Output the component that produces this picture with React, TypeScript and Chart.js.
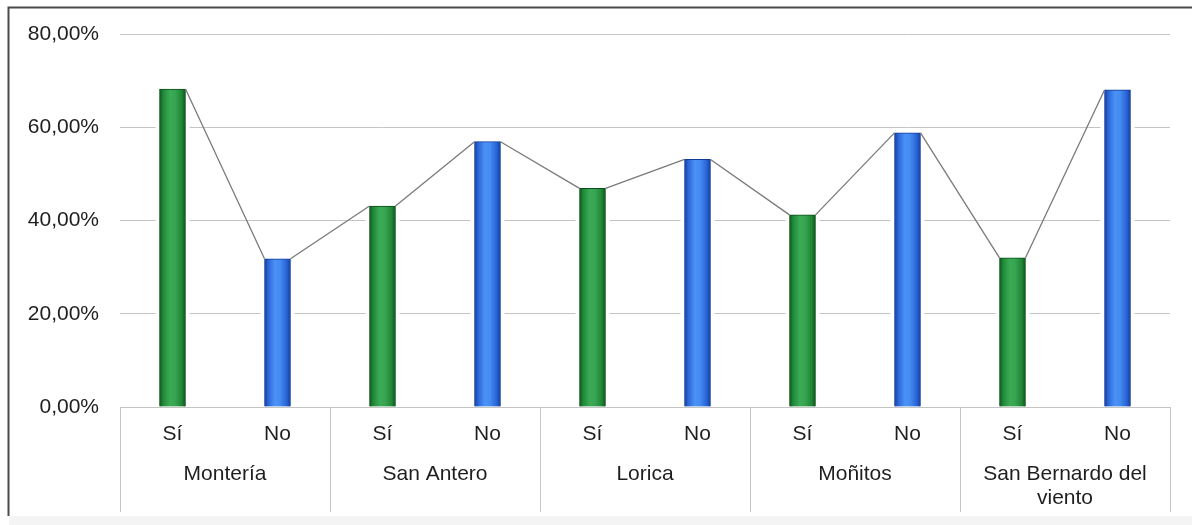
import React, { useEffect, useRef } from "react";
import { Chart, registerables } from "chart.js";

Chart.register(...registerables);

const categories = ["Montería", "San Antero", "Lorica", "Moñitos", "San Bernardo del viento"];
const categoryLines = [["Montería"], ["San Antero"], ["Lorica"], ["Moñitos"], ["San Bernardo del", "viento"]];
const answers = ["Sí", "No"];
const siValues = [68.2, 43.1, 46.9, 41.2, 32.0];
const noValues = [31.8, 56.9, 53.1, 58.8, 68.0];
const yTicks = [0, 20, 40, 60, 80];

const FONT = '"Liberation Sans", Arial, Helvetica, sans-serif';
const FONT_SIZE = 21;

const labels: string[] = [];
const values: number[] = [];
categories.forEach((_, i) => {
  labels.push(answers[0], answers[1]);
  values.push(siValues[i], noValues[i]);
});

const greenStops: [number, string][] = [
  [0, "#0b5419"],
  [0.14, "#1f8a38"],
  [0.4, "#3bab56"],
  [0.6, "#37a451"],
  [0.86, "#1f8636"],
  [1, "#0b5419"],
];
const blueStops: [number, string][] = [
  [0, "#113d9c"],
  [0.14, "#2a66d8"],
  [0.4, "#4b91f6"],
  [0.6, "#448bf2"],
  [0.86, "#2763d4"],
  [1, "#113d9c"],
];

const frameAndGroups = {
  id: "frameAndGroups",
  beforeDraw(chart: any) {
    const ctx = chart.ctx;
    ctx.save();
    ctx.fillStyle = "#ffffff";
    ctx.fillRect(0, 0, chart.width, chart.height);
    ctx.fillStyle = "#f4f4f4";
    ctx.fillRect(9, 516, chart.width, chart.height - 516);
    ctx.restore();
  },
  beforeDatasetsDraw(chart: any) {
    const ctx = chart.ctx;
    const meta = chart.getDatasetMeta(0);
    ctx.save();
    ctx.fillStyle = "#ffffff";
    meta.data.forEach((bar: any) => {
      const w = bar.width;
      ctx.fillRect(bar.x - w / 2 - 4, bar.y - 3, w + 8, bar.base - bar.y + 2);
    });
    ctx.restore();
  },
  afterDatasetsDraw(chart: any) {
    const ctx = chart.ctx;
    const meta = chart.getDatasetMeta(0);
    const bars = meta.data;
    ctx.save();
    ctx.strokeStyle = "#7a7a7a";
    ctx.lineWidth = 1.3;
    ctx.beginPath();
    for (let i = 0; i < bars.length - 1; i++) {
      const a = bars[i];
      const b = bars[i + 1];
      ctx.moveTo(a.x + a.width / 2, a.y);
      ctx.lineTo(b.x - b.width / 2, b.y);
    }
    ctx.stroke();
    ctx.restore();
  },
  afterDraw(chart: any) {
    const ctx = chart.ctx;
    const xs = chart.scales.x;
    const area = chart.chartArea;
    ctx.save();
    // separators
    ctx.strokeStyle = "#c6c6c6";
    ctx.lineWidth = 1;
    for (let g = 0; g <= categories.length; g++) {
      let px: number;
      if (g === 0) px = xs.left;
      else if (g === categories.length) px = xs.right;
      else px = (xs.getPixelForValue(2 * g - 1) + xs.getPixelForValue(2 * g)) / 2;
      px = Math.round(px) + 0.5;
      ctx.beginPath();
      ctx.moveTo(px, area.bottom);
      ctx.lineTo(px, area.bottom + 105);
      ctx.stroke();
    }
    // group labels
    ctx.fillStyle = "#1e1e1e";
    ctx.font = `${FONT_SIZE}px ${FONT}`;
    ctx.textAlign = "center";
    ctx.textBaseline = "middle";
    categoryLines.forEach((lines, g) => {
      const cx = (xs.getPixelForValue(2 * g) + xs.getPixelForValue(2 * g + 1)) / 2;
      lines.forEach((t, k) => {
        ctx.fillText(t, cx, area.bottom + 67 + k * 24);
      });
    });
    // frame
    ctx.strokeStyle = "#4a4a4a";
    ctx.lineWidth = 2;
    ctx.beginPath();
    ctx.moveTo(8.5, chart.height - 9);
    ctx.lineTo(8.5, 7.5);
    ctx.lineTo(chart.width, 7.5);
    ctx.stroke();
    ctx.restore();
  },
};

function makeGradient(c: any) {
  const isSi = c.dataIndex % 2 === 0;
  const fallback = isSi ? "#2f9a48" : "#3d80ee";
  if (c.type !== "data") return fallback;
  const chart = c.chart;
  const xs = chart.scales && chart.scales.x;
  if (!xs || !chart.chartArea) return fallback;
  const cx = xs.getPixelForValue(c.dataIndex);
  const g = chart.ctx.createLinearGradient(cx - 13, 0, cx + 13, 0);
  (isSi ? greenStops : blueStops).forEach(([o, col]) => g.addColorStop(o, col));
  return g;
}

export default function App() {
  const ref = useRef<HTMLCanvasElement>(null);
  useEffect(() => {
    if (!ref.current) return;
    const chart = new Chart(ref.current, {
      type: "bar",
      data: {
        labels,
        datasets: [
          {
            data: values,
            backgroundColor: makeGradient as any,
            borderColor: values.map((_, i) => (i % 2 === 0 ? "#0b4d17" : "#123a94")),
            borderWidth: 1,
            barThickness: 26,
          },
        ],
      },
      options: {
        responsive: false,
        maintainAspectRatio: false,
        devicePixelRatio: 1,
        animation: false,
        layout: { padding: { left: 0, right: 22, top: 34, bottom: 0 } },
        plugins: {
          legend: { display: false },
          tooltip: { enabled: false },
          title: { display: false },
        },
        scales: {
          y: {
            min: yTicks[0],
            max: yTicks[yTicks.length - 1],
            afterBuildTicks: (s: any) => {
              s.ticks = yTicks.map((v) => ({ value: v }));
            },
            ticks: {
              callback: (v: any) => Number(v).toFixed(2).replace(".", ",") + "%",
              font: { size: FONT_SIZE, family: FONT },
              color: "#1e1e1e",
              padding: 21,
            },
            grid: { color: "#c4c4c4", lineWidth: 1, drawTicks: false },
            border: { display: false },
            afterFit: (s: any) => {
              s.width = 120;
            },
          },
          x: {
            grid: { display: false, drawTicks: false },
            border: { display: false },
            ticks: {
              font: { size: FONT_SIZE, family: FONT },
              color: "#1e1e1e",
              padding: 15,
              maxRotation: 0,
              autoSkip: false,
            },
            afterFit: (s: any) => {
              s.height = 118;
            },
          },
        },
      },
      plugins: [frameAndGroups],
    });
    return () => chart.destroy();
  }, []);
  return (
    <div style={{ position: "fixed", left: 0, top: 0, width: 1192, height: 525, background: "#fff" }}>
      <canvas ref={ref} width={1192} height={525} style={{ display: "block", width: 1192, height: 525 }} />
    </div>
  );
}
